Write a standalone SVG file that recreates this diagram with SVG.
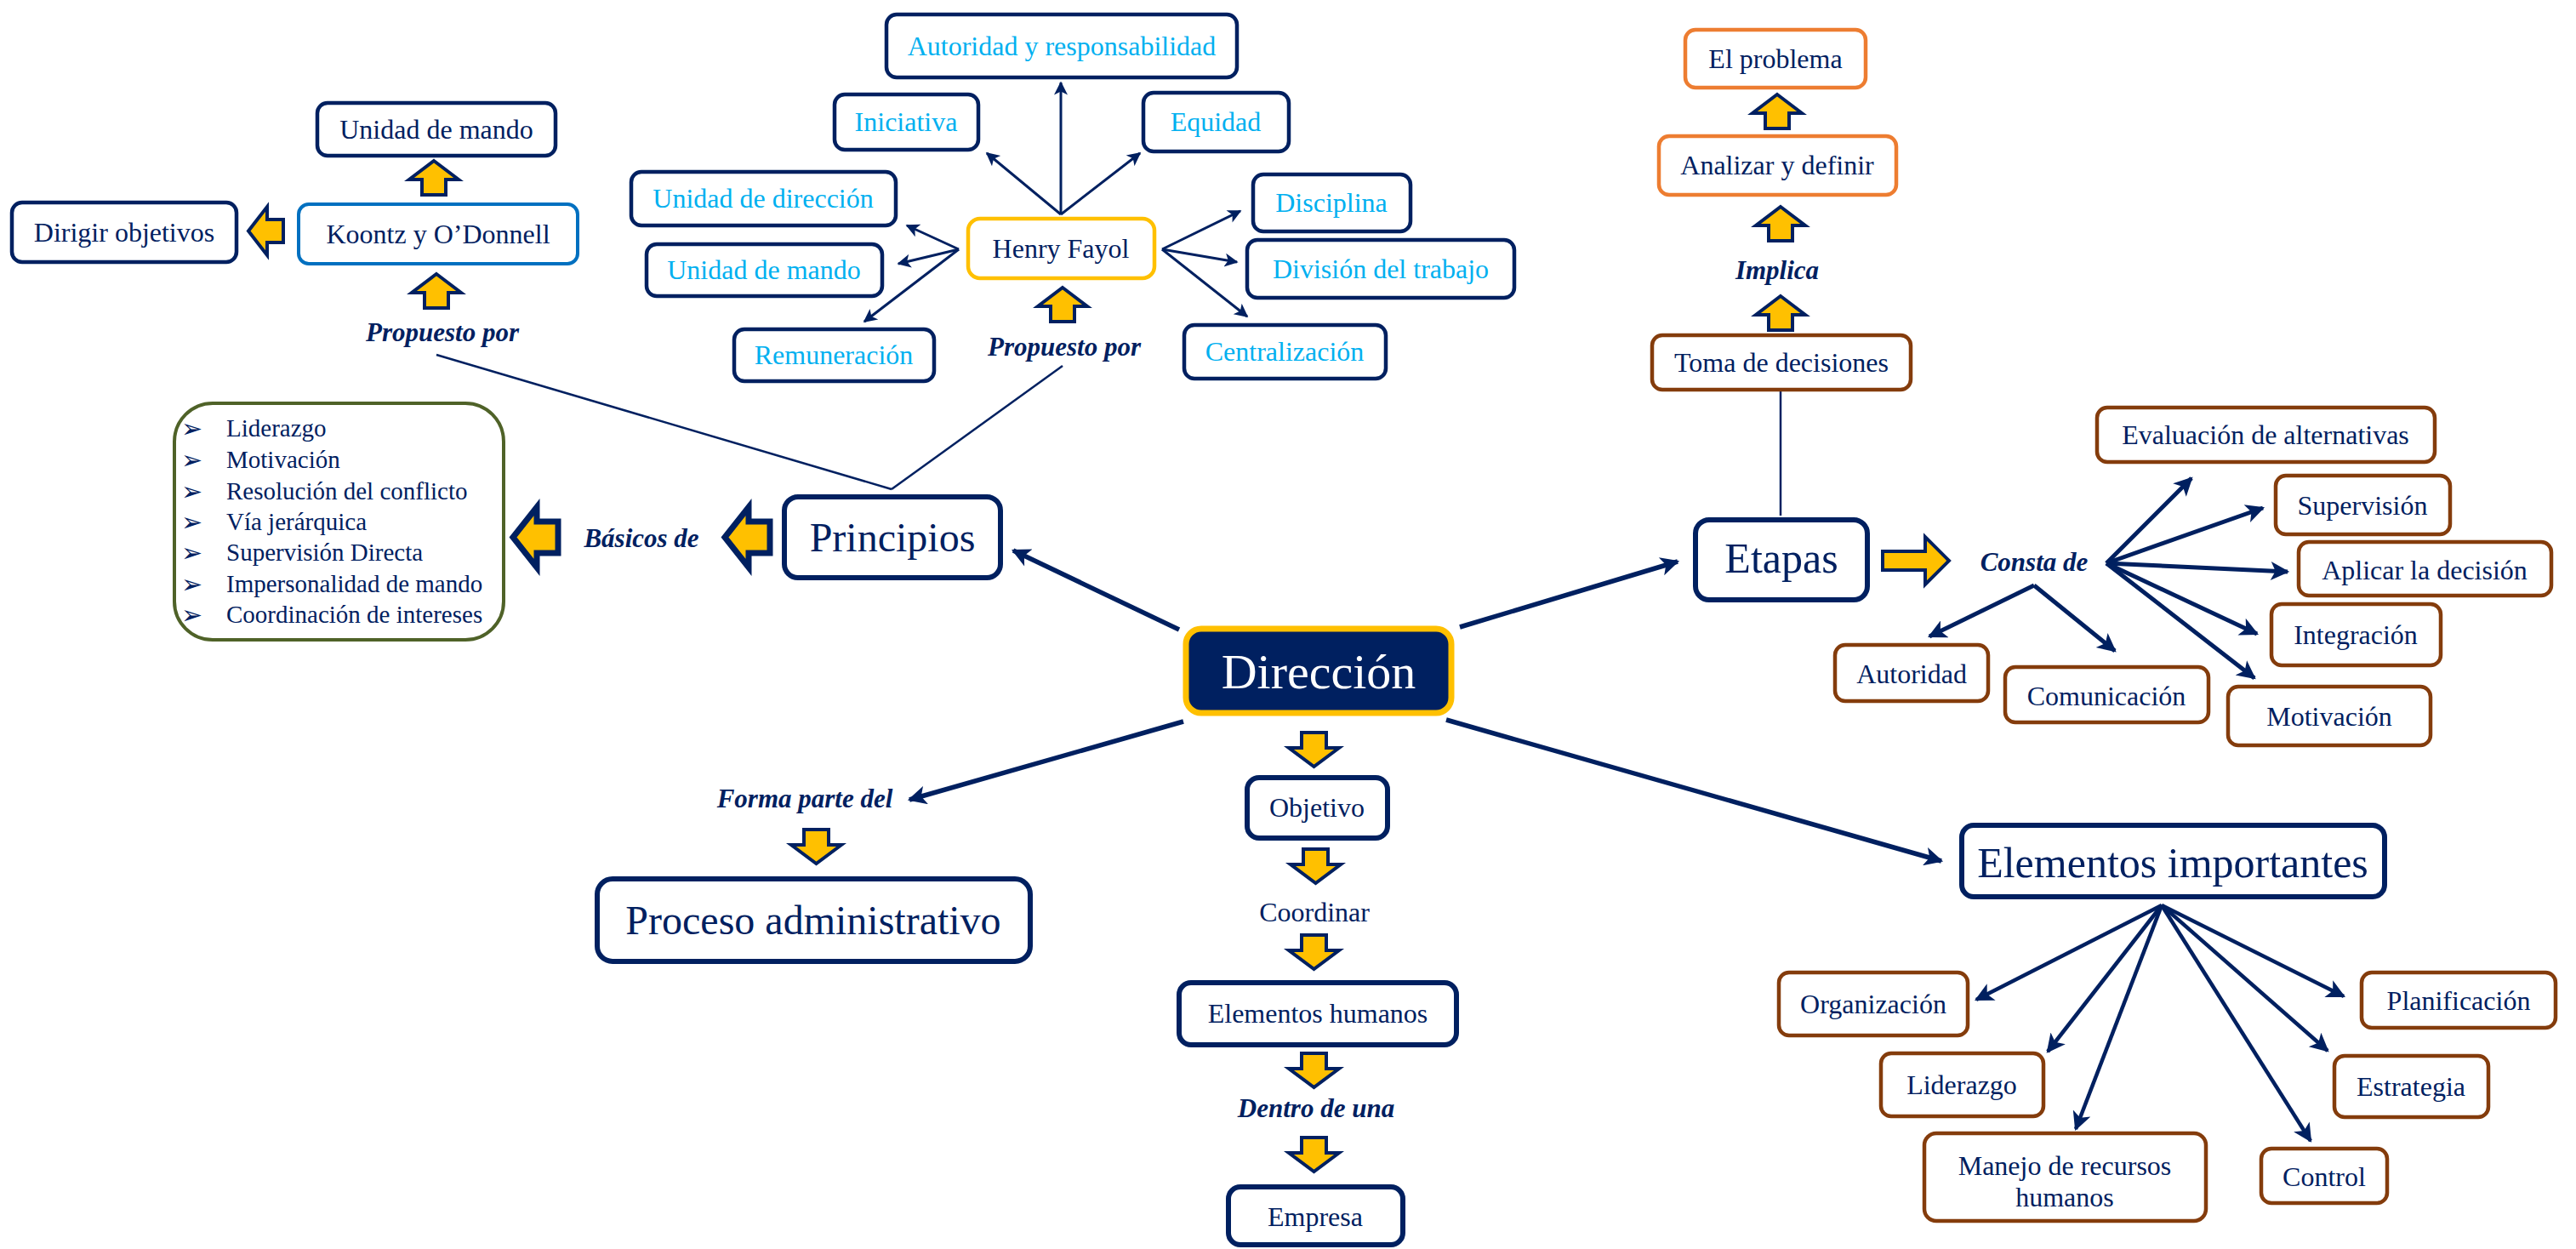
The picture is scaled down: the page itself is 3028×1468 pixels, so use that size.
<svg xmlns="http://www.w3.org/2000/svg" width="3028" height="1468" viewBox="0 0 3028 1468">
<style>
.bg{fill:#ffffff}
.box{fill:#ffffff;stroke:#002060;stroke-width:4.5}
.bxb{fill:#ffffff;stroke:#0070C0;stroke-width:4}
.bxg{fill:#ffffff;stroke:#FFC000;stroke-width:4.5}
.bxo{fill:#ffffff;stroke:#ED7D31;stroke-width:4.5}
.bxr{fill:#ffffff;stroke:#843C0C;stroke-width:4.5}
.bxgr{fill:#ffffff;stroke:#4F6228;stroke-width:4}
.t{font-family:"Liberation Serif","Times New Roman",serif;font-size:32px;fill:#002060;text-anchor:middle;dominant-baseline:central}
.tl{text-anchor:start}
.c{fill:#00B0F0}
.big{font-size:48px}
.lbl{font-style:italic;font-weight:bold;font-size:31px}
.ya{fill:#FFC000;stroke:#002060;stroke-width:4;stroke-linejoin:miter}
.yb{fill:#FFC000;stroke:#002060;stroke-width:7;stroke-linejoin:miter}
.ln{fill:none;stroke:#002060}
.bul{font-family:"DejaVu Sans",sans-serif;font-size:30px;fill:#002060;dominant-baseline:central}
</style>
<defs>
<marker id="ah" viewBox="0 0 10 10" refX="9" refY="5" markerWidth="18" markerHeight="16" markerUnits="userSpaceOnUse" orient="auto"><path d="M0,0 L10,5 L0,10 L2.5,5 Z" fill="#002060"/></marker>
<marker id="ahL" viewBox="0 0 10 10" refX="9" refY="5" markerWidth="26" markerHeight="22" markerUnits="userSpaceOnUse" orient="auto"><path d="M0,0 L10,5 L0,10 L2.5,5 Z" fill="#002060"/></marker>
<path id="up" d="M29,0 L58,22 L43,22 L43,40 L15,40 L15,22 L0,22 Z"/>
<path id="down" d="M15,0 L44,0 L44,18 L59,18 L29.5,40 L0,18 L15,18 Z"/>
<path id="leftBig" d="M2,38.5 L30,3 L30,20 L55,20 L55,57 L30,57 L30,74 Z"/>
<path id="leftSmall" d="M0,28.5 L22,0 L22,15 L41,15 L41,42 L22,42 L22,57 Z"/>
<path id="right" d="M0,17 L50,17 L50,0 L78,28 L50,56 L50,39 L0,39 Z"/>
</defs>
<rect class="bg" x="0" y="0" width="3028" height="1468"/>

<g id="connectors">
  <line class="ln" stroke-width="2.5" x1="513" y1="417" x2="1048" y2="575"/>
  <line class="ln" stroke-width="2.5" x1="1249" y1="430" x2="1048" y2="575"/>
  <g class="ln" stroke-width="3" marker-end="url(#ah)">
    <line x1="1247" y1="252" x2="1247" y2="97"/>
    <line x1="1247" y1="252" x2="1160" y2="180"/>
    <line x1="1247" y1="252" x2="1340" y2="180"/>
    <line x1="1127" y1="293" x2="1066" y2="265"/>
    <line x1="1127" y1="293" x2="1056" y2="310"/>
    <line x1="1127" y1="293" x2="1016" y2="378"/>
    <line x1="1366" y1="293" x2="1458" y2="248"/>
    <line x1="1366" y1="293" x2="1454" y2="308"/>
    <line x1="1366" y1="293" x2="1466" y2="372"/>
  </g>
  <g class="ln" stroke-width="5.5" marker-end="url(#ahL)">
    <line x1="1386" y1="740" x2="1191" y2="647"/>
    <line x1="1391" y1="848" x2="1069" y2="940"/>
    <line x1="1716" y1="737" x2="1972" y2="660"/>
    <line x1="1700" y1="846" x2="2282" y2="1012"/>
  </g>
  <line class="ln" stroke-width="2.5" x1="2093" y1="458" x2="2093" y2="606"/>
  <g class="ln" stroke-width="5" marker-end="url(#ahL)">
    <line x1="2476" y1="662" x2="2576" y2="562"/>
    <line x1="2476" y1="662" x2="2660" y2="597"/>
    <line x1="2476" y1="662" x2="2689" y2="672"/>
    <line x1="2476" y1="662" x2="2653" y2="745"/>
    <line x1="2476" y1="662" x2="2650" y2="797"/>
    <line x1="2391" y1="688" x2="2268" y2="748"/>
    <line x1="2391" y1="688" x2="2486" y2="765"/>
  </g>
  <g class="ln" stroke-width="4.5" marker-end="url(#ahL)">
    <line x1="2541" y1="1064" x2="2323" y2="1175"/>
    <line x1="2541" y1="1064" x2="2407" y2="1236"/>
    <line x1="2541" y1="1064" x2="2440" y2="1327"/>
    <line x1="2541" y1="1064" x2="2716" y2="1341"/>
    <line x1="2541" y1="1064" x2="2736" y2="1235"/>
    <line x1="2541" y1="1064" x2="2755" y2="1171"/>
  </g>
  <g class="ya">
    <use href="#up" x="481" y="189"/>
    <use href="#up" x="484" y="322"/>
    <use href="#leftSmall" x="292" y="243"/>
    <use href="#up" x="1220" y="338"/>
    <use href="#up" x="2060" y="111"/>
    <use href="#up" x="2064" y="243"/>
    <use href="#up" x="2064" y="348"/>
    <use href="#right" x="2213" y="631"/>
    <use href="#down" x="1515" y="861"/>
    <use href="#down" x="1517" y="998"/>
    <use href="#down" x="1515" y="1099"/>
    <use href="#down" x="1515" y="1238"/>
    <use href="#down" x="1515" y="1337"/>
    <use href="#down" x="930" y="975"/>
  </g>
  <g class="yb">
    <use href="#leftBig" x="850" y="593"/>
    <use href="#leftBig" x="601" y="593"/>
  </g>
</g>

<g id="labels">
  <text class="t lbl" x="520" y="390">Propuesto por</text>
  <text class="t lbl" x="1251" y="407">Propuesto por</text>
  <text class="t lbl" x="754" y="632">Básicos de</text>
  <text class="t lbl" x="946" y="938">Forma parte del</text>
  <text class="t lbl" x="2089" y="317">Implica</text>
  <text class="t lbl" x="2391" y="660">Consta de</text>
  <text class="t lbl" x="1547" y="1302">Dentro de una</text>
  <text class="t" x="1545" y="1072">Coordinar</text>
</g>

<g id="n-unidad-mando-k"><rect class="box" x="373" y="121" width="280" height="62" rx="12"/><text class="t" x="513" y="152">Unidad de mando</text></g>
<g id="n-koontz"><rect class="bxb" x="351" y="240" width="328" height="70" rx="12"/><text class="t" x="515" y="275">Koontz y O’Donnell</text></g>
<g id="n-dirigir"><rect class="box" x="14" y="238" width="264" height="70" rx="12"/><text class="t" x="146" y="273">Dirigir objetivos</text></g>

<g id="n-autoridad-resp"><rect class="box" x="1042" y="17" width="412" height="74" rx="12"/><text class="t c" x="1248" y="54">Autoridad y responsabilidad</text></g>
<g id="n-iniciativa"><rect class="box" x="981" y="111" width="169" height="65" rx="12"/><text class="t c" x="1065" y="143">Iniciativa</text></g>
<g id="n-equidad"><rect class="box" x="1344" y="109" width="171" height="69" rx="12"/><text class="t c" x="1429" y="143">Equidad</text></g>
<g id="n-unidad-direccion"><rect class="box" x="742" y="202" width="311" height="63" rx="12"/><text class="t c" x="897" y="233">Unidad de dirección</text></g>
<g id="n-unidad-mando-f"><rect class="box" x="760" y="287" width="277" height="61" rx="12"/><text class="t c" x="898" y="317">Unidad de mando</text></g>
<g id="n-remuneracion"><rect class="box" x="863" y="387" width="235" height="61" rx="12"/><text class="t c" x="980" y="417">Remuneración</text></g>
<g id="n-henry"><rect class="bxg" x="1138" y="257" width="219" height="70" rx="14"/><text class="t" x="1247" y="292">Henry Fayol</text></g>
<g id="n-disciplina"><rect class="box" x="1473" y="205" width="185" height="67" rx="12"/><text class="t c" x="1565" y="238">Disciplina</text></g>
<g id="n-division"><rect class="box" x="1466" y="282" width="314" height="68" rx="12"/><text class="t c" x="1623" y="316">División del trabajo</text></g>
<g id="n-centralizacion"><rect class="box" x="1392" y="382" width="237" height="63" rx="12"/><text class="t c" x="1510" y="413">Centralización</text></g>

<g id="n-principios"><rect class="box" style="stroke-width:6" x="922" y="584" width="254" height="95" rx="16"/><text class="t big" x="1049" y="631">Principios</text></g>
<g id="n-lista">
  <rect class="bxgr" x="205" y="474" width="387" height="278" rx="45"/>
  <text class="bul" x="213" y="503">➢</text><text class="t tl" style="font-size:29px" x="266" y="503">Liderazgo</text>
  <text class="bul" x="213" y="540">➢</text><text class="t tl" style="font-size:29px" x="266" y="540">Motivación</text>
  <text class="bul" x="213" y="577">➢</text><text class="t tl" style="font-size:29px" x="266" y="577">Resolución del conflicto</text>
  <text class="bul" x="213" y="613">➢</text><text class="t tl" style="font-size:29px" x="266" y="613">Vía jerárquica</text>
  <text class="bul" x="213" y="649">➢</text><text class="t tl" style="font-size:29px" x="266" y="649">Supervisión Directa</text>
  <text class="bul" x="213" y="686">➢</text><text class="t tl" style="font-size:29px" x="266" y="686">Impersonalidad de mando</text>
  <text class="bul" x="213" y="722">➢</text><text class="t tl" style="font-size:29px" x="266" y="722">Coordinación de intereses</text>
</g>

<g id="n-direccion"><rect x="1394" y="739" width="312" height="99" rx="18" fill="#002060" stroke="#FFC000" stroke-width="7"/><text class="t" style="font-size:58px;fill:#ffffff" x="1550" y="789">Dirección</text></g>
<g id="n-objetivo"><rect class="box" style="stroke-width:6" x="1466" y="914" width="165" height="71" rx="14"/><text class="t" x="1548" y="949">Objetivo</text></g>
<g id="n-elementos-humanos"><rect class="box" style="stroke-width:6" x="1386" y="1155" width="326" height="73" rx="14"/><text class="t" x="1549" y="1191">Elementos humanos</text></g>
<g id="n-empresa"><rect class="box" style="stroke-width:6" x="1444" y="1395" width="205" height="68" rx="14"/><text class="t" x="1546" y="1430">Empresa</text></g>
<g id="n-proceso"><rect class="box" style="stroke-width:6" x="702" y="1033" width="509" height="97" rx="18"/><text class="t big" x="956" y="1081">Proceso administrativo</text></g>

<g id="n-problema"><rect class="bxo" x="1981" y="35" width="212" height="68" rx="12"/><text class="t" x="2087" y="69">El problema</text></g>
<g id="n-analizar"><rect class="bxo" x="1950" y="160" width="279" height="69" rx="12"/><text class="t" x="2089" y="194">Analizar y definir</text></g>
<g id="n-toma"><rect class="bxr" x="1942" y="394" width="304" height="64" rx="12"/><text class="t" x="2094" y="426">Toma de decisiones</text></g>
<g id="n-etapas"><rect class="box" style="stroke-width:6" x="1993" y="611" width="202" height="94" rx="16"/><text class="t" style="font-size:50px" x="2094" y="656">Etapas</text></g>

<g id="n-evaluacion"><rect class="bxr" x="2465" y="479" width="397" height="64" rx="12"/><text class="t" x="2663" y="511">Evaluación de alternativas</text></g>
<g id="n-supervision"><rect class="bxr" x="2675" y="559" width="205" height="69" rx="12"/><text class="t" x="2777" y="594">Supervisión</text></g>
<g id="n-aplicar"><rect class="bxr" x="2702" y="637" width="297" height="63" rx="12"/><text class="t" x="2850" y="670">Aplicar la decisión</text></g>
<g id="n-integracion"><rect class="bxr" x="2670" y="710" width="199" height="72" rx="12"/><text class="t" x="2769" y="746">Integración</text></g>
<g id="n-motivacion"><rect class="bxr" x="2619" y="807" width="238" height="69" rx="12"/><text class="t" x="2738" y="842">Motivación</text></g>
<g id="n-autoridad"><rect class="bxr" x="2157" y="758" width="180" height="66" rx="12"/><text class="t" x="2247" y="792">Autoridad</text></g>
<g id="n-comunicacion"><rect class="bxr" x="2357" y="784" width="239" height="65" rx="12"/><text class="t" x="2476" y="818">Comunicación</text></g>

<g id="n-elementos-importantes"><rect class="box" style="stroke-width:6" x="2306" y="970" width="497" height="84" rx="14"/><text class="t" style="font-size:50px" x="2554" y="1014">Elementos importantes</text></g>
<g id="n-organizacion"><rect class="bxr" x="2091" y="1143" width="222" height="74" rx="12"/><text class="t" x="2202" y="1180">Organización</text></g>
<g id="n-liderazgo"><rect class="bxr" x="2211" y="1238" width="191" height="74" rx="12"/><text class="t" x="2306" y="1275">Liderazgo</text></g>
<g id="n-manejo"><rect class="bxr" x="2262" y="1332" width="331" height="103" rx="14"/><text class="t" x="2427" y="1370">Manejo de recursos</text><text class="t" x="2427" y="1407">humanos</text></g>
<g id="n-control"><rect class="bxr" x="2658" y="1350" width="148" height="64" rx="12"/><text class="t" x="2732" y="1383">Control</text></g>
<g id="n-estrategia"><rect class="bxr" x="2744" y="1241" width="181" height="72" rx="12"/><text class="t" x="2834" y="1277">Estrategia</text></g>
<g id="n-planificacion"><rect class="bxr" x="2776" y="1143" width="228" height="65" rx="12"/><text class="t" x="2890" y="1176">Planificación</text></g>
</svg>
